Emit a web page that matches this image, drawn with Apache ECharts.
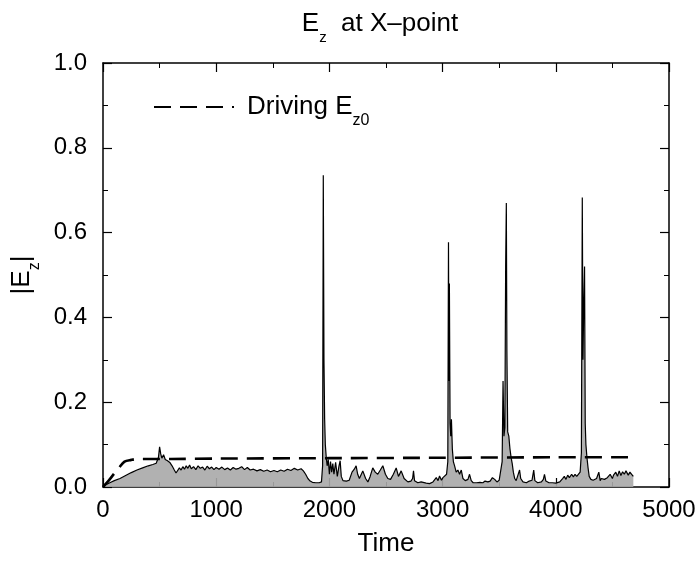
<!DOCTYPE html>
<html>
<head>
<meta charset="utf-8">
<title>Ez at X-point</title>
<script src="https://cdn.jsdelivr.net/npm/echarts@6/dist/echarts.min.js"></script>
<style>
  html, body { margin: 0; padding: 0; background: #fff; }
  #chart { width: 700px; height: 562px; }
</style>
</head>
<body>
<div id="chart"></div>
<script>
// |Ez| at the X-point
var ezTime = [0, 30, 60, 100, 150, 200, 250, 300, 350, 400, 440, 470, 490, 500, 510, 520, 535, 550, 570, 590, 610, 630, 645, 660, 675, 690, 705, 720, 735, 750, 765, 780, 800, 820, 840, 860, 880, 900, 920, 940, 960, 980, 1000, 1025, 1050, 1075, 1100, 1125, 1150, 1175, 1200, 1225, 1250, 1275, 1300, 1330, 1360, 1390, 1420, 1450, 1480, 1510, 1540, 1570, 1600, 1630, 1660, 1690, 1720, 1750, 1770, 1790, 1810, 1830, 1850, 1880, 1910, 1930, 1940, 1946, 1952, 1958, 1964, 1972, 1980, 1990, 2000, 2010, 2020, 2030, 2040, 2055, 2070, 2085, 2095, 2105, 2120, 2150, 2175, 2200, 2220, 2236, 2250, 2265, 2295, 2320, 2340, 2360, 2383, 2405, 2427, 2450, 2472, 2495, 2516, 2540, 2565, 2590, 2610, 2634, 2660, 2693, 2720, 2735, 2743, 2752, 2781, 2810, 2826, 2855, 2885, 2915, 2944, 2960, 2973, 2990, 3003, 3020, 3035, 3046, 3052, 3056, 3060, 3066, 3072, 3078, 3086, 3095, 3106, 3120, 3135, 3150, 3165, 3180, 3200, 3224, 3238, 3253, 3270, 3300, 3330, 3356, 3375, 3386, 3400, 3420, 3440, 3460, 3480, 3500, 3515, 3526, 3534, 3542, 3550, 3557, 3563, 3568, 3575, 3585, 3595, 3605, 3615, 3625, 3637, 3650, 3666, 3680, 3690, 3710, 3740, 3765, 3790, 3805, 3815, 3840, 3873, 3890, 3900, 3912, 3940, 3970, 4000, 4035, 4060, 4075, 4090, 4105, 4120, 4140, 4155, 4170, 4185, 4200, 4215, 4226, 4234, 4240, 4247, 4254, 4260, 4266, 4275, 4285, 4295, 4310, 4330, 4360, 4380, 4392, 4402, 4430, 4455, 4480, 4500, 4510, 4530, 4545, 4560, 4575, 4590, 4605, 4620, 4640, 4655, 4670, 4685, 4700];
var ezValue = [0.003, 0.006, 0.01, 0.015, 0.02, 0.027, 0.034, 0.04, 0.045, 0.05, 0.053, 0.056, 0.07, 0.095, 0.078, 0.068, 0.076, 0.065, 0.062, 0.058, 0.05, 0.04, 0.033, 0.036, 0.045, 0.04, 0.048, 0.042, 0.05, 0.044, 0.052, 0.043, 0.048, 0.041, 0.05, 0.044, 0.047, 0.04, 0.049, 0.043, 0.047, 0.041, 0.046, 0.042, 0.047, 0.041, 0.045, 0.04, 0.046, 0.042, 0.044, 0.048, 0.041, 0.046, 0.04, 0.042, 0.038, 0.041, 0.037, 0.04, 0.036, 0.039, 0.036, 0.04, 0.037, 0.042, 0.039, 0.044, 0.04, 0.043, 0.038, 0.03, 0.02, 0.014, 0.011, 0.01, 0.01, 0.012, 0.05, 0.735, 0.3, 0.16, 0.1, 0.07, 0.05, 0.065, 0.03, 0.06, 0.035, 0.055, 0.03, 0.058, 0.025, 0.05, 0.062, 0.025, 0.015, 0.014, 0.016, 0.035, 0.042, 0.05, 0.03, 0.02, 0.038, 0.02, 0.012, 0.025, 0.045, 0.035, 0.03, 0.04, 0.05, 0.03, 0.02, 0.018, 0.03, 0.045, 0.025, 0.038, 0.02, 0.012, 0.014, 0.02, 0.038, 0.015, 0.01, 0.012, 0.016, 0.009, 0.008, 0.012, 0.022, 0.015, 0.026, 0.016, 0.022, 0.018, 0.03, 0.06, 0.577, 0.25, 0.48, 0.15, 0.12, 0.16, 0.09, 0.06, 0.05, 0.035, 0.04, 0.03, 0.04, 0.02, 0.015, 0.018, 0.03, 0.015, 0.01, 0.01, 0.011, 0.01, 0.014, 0.018, 0.012, 0.014, 0.022, 0.018, 0.012, 0.016, 0.02, 0.06, 0.25, 0.12, 0.14, 0.52, 0.67, 0.32, 0.13, 0.12, 0.09, 0.07, 0.055, 0.035, 0.02, 0.015, 0.016, 0.04, 0.02, 0.012, 0.01, 0.014, 0.016, 0.04, 0.015, 0.01, 0.012, 0.018, 0.03, 0.014, 0.01, 0.01, 0.009, 0.012, 0.02, 0.025, 0.018, 0.028, 0.022, 0.03, 0.024, 0.03, 0.025, 0.028, 0.035, 0.08, 0.683, 0.3, 0.43, 0.52, 0.15, 0.1, 0.07, 0.045, 0.025, 0.018, 0.016, 0.02, 0.035, 0.015, 0.02, 0.018, 0.022, 0.03, 0.02, 0.028, 0.035, 0.025, 0.038, 0.027, 0.036, 0.03, 0.038, 0.028, 0.035, 0.03, 0.025];

// driving field Ez0 (dashed)
var driveTime = [0, 50, 100, 140, 190, 250, 300, 400, 600, 1000, 2000, 3000, 4000, 4700];
var driveValue = [0, 0.015, 0.032, 0.045, 0.06, 0.064, 0.066, 0.066, 0.066, 0.067, 0.068, 0.069, 0.07, 0.07];

var xTicks = [0, 1000, 2000, 3000, 4000, 5000];
var yTicks = [0, 0.2, 0.4, 0.6, 0.8, 1.0];

var font = "'Liberation Sans', Arial, sans-serif";

function pairs(xs, ys) {
    var out = [];
    for (var i = 0; i < xs.length; i++) {
        out.push([xs[i], ys[i]]);
    }
    return out;
}

function richText(size, subSize, drop) {
    return {
        b: {fontFamily: font, fontSize: size, color: '#000'},
        sub: {fontFamily: font, fontSize: subSize, color: '#000', verticalAlign: 'bottom', padding: [0, 0, -drop, 0]}
    };
}

var chart = echarts.init(document.getElementById('chart'));

var tickStyle = {show: true, inside: true, length: 9, lineStyle: {color: '#000', width: 1.2}};
var minorStyle = {show: true, splitNumber: 2, length: 5, lineStyle: {color: '#000', width: 1}};
var lineAxis = {show: true, onZero: false, lineStyle: {color: '#000', width: 1.5}};

var option = {
    animation: false,
    backgroundColor: '#fff',
    title: {
        text: '{b|E}{sub|z}{b|  at X\u2013point}',
        left: 375,
        textAlign: 'center',
        top: 6,
        textStyle: {
            fontFamily: font,
            fontSize: 26,
            fontWeight: 'normal',
            color: '#000',
            rich: richText(26, 15, 8)
        }
    },
    legend: {
        data: ['Driving'],
        left: 148,
        top: 89,
        itemWidth: 80,
        itemHeight: 14,
        itemStyle: {opacity: 0},
        formatter: function () {
            return '{b|Driving E}{sub|z0}';
        },
        textStyle: {
            fontFamily: font,
            fontSize: 26,
            color: '#000',
            padding: [0, 0, 0, 8],
            rich: richText(26, 16, 9)
        }
    },
    grid: {left: 103, right: 31, top: 63, bottom: 74},
    xAxis: [
        {
            type: 'value',
            min: xTicks[0],
            max: xTicks[xTicks.length - 1],
            interval: xTicks[1] - xTicks[0],
            name: 'Time',
            nameLocation: 'middle',
            nameGap: 44,
            nameTextStyle: {fontFamily: font, fontSize: 26, color: '#000'},
            axisLine: lineAxis,
            axisTick: tickStyle,
            minorTick: minorStyle,
            splitLine: {show: false},
            axisLabel: {
                fontFamily: font,
                fontSize: 24,
                color: '#000',
                margin: 11,
                formatter: function (v) { return String(v); }
            }
        },
        {
            type: 'value',
            position: 'top',
            min: xTicks[0],
            max: xTicks[xTicks.length - 1],
            interval: xTicks[1] - xTicks[0],
            axisLine: lineAxis,
            axisTick: tickStyle,
            minorTick: minorStyle,
            splitLine: {show: false},
            axisLabel: {show: false}
        }
    ],
    yAxis: [
        {
            type: 'value',
            min: yTicks[0],
            max: yTicks[yTicks.length - 1],
            interval: 0.2,
            name: '{b||E}{sub|z}{b||}',
            nameLocation: 'middle',
            nameGap: 58,
            nameRotate: 90,
            nameTextStyle: {
                fontFamily: font,
                fontSize: 26,
                color: '#000',
                rich: richText(26, 16, 8)
            },
            axisLine: lineAxis,
            axisTick: tickStyle,
            minorTick: minorStyle,
            splitLine: {show: false},
            axisLabel: {
                fontFamily: font,
                fontSize: 24,
                color: '#000',
                margin: 16,
                formatter: function (v) { return v.toFixed(1); }
            }
        },
        {
            type: 'value',
            position: 'right',
            min: yTicks[0],
            max: yTicks[yTicks.length - 1],
            interval: 0.2,
            axisLine: lineAxis,
            axisTick: tickStyle,
            minorTick: minorStyle,
            splitLine: {show: false},
            axisLabel: {show: false}
        }
    ],
    series: [
        {
            name: '|Ez|',
            type: 'line',
            xAxisIndex: 0,
            yAxisIndex: 0,
            data: pairs(ezTime, ezValue),
            showSymbol: false,
            symbol: 'none',
            lineStyle: {color: '#000', width: 1.2},
            areaStyle: {color: '#a9a9a9', opacity: 0.9},
            z: 2
        },
        {
            name: 'Driving',
            type: 'line',
            xAxisIndex: 0,
            yAxisIndex: 0,
            data: pairs(driveTime, driveValue),
            showSymbol: false,
            symbol: 'none',
            smooth: 0.3,
            lineStyle: {color: '#000', width: 2.6, type: [17, 9]},
            itemStyle: {color: '#000'},
            z: 3
        }
    ]
};

chart.setOption(option);
</script>
</body>
</html>
